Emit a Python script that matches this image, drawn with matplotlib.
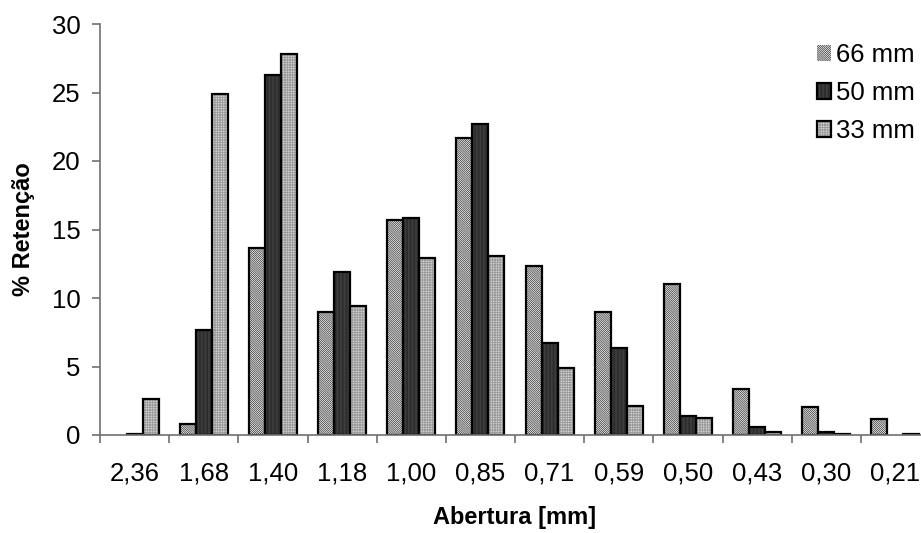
import numpy as np
import matplotlib
matplotlib.use("Agg")
import matplotlib.pyplot as plt
from matplotlib.legend_handler import HandlerTuple

plt.rcParams["font.family"] = ["Liberation Sans", "DejaVu Sans"]
plt.rcParams["hatch.linewidth"] = 0.5

# Data
aberturas = ["2,36", "1,68", "1,40", "1,18", "1,00", "0,85",
             "0,71", "0,59", "0,50", "0,43", "0,30", "0,21"]
series_names = ["66 mm", "50 mm", "33 mm"]
ret_66 = [0.0, 0.8, 13.65, 8.98, 15.66, 21.68, 12.33, 8.98, 11.05, 3.33, 2.01, 1.14]
ret_50 = [0.1, 7.65, 26.3, 11.9, 15.83, 22.7, 6.68, 6.36, 1.41, 0.56, 0.24, 0.0]
ret_33 = [2.6, 24.9, 27.8, 9.42, 12.92, 13.06, 4.9, 2.14, 1.26, 0.24, 0.1, 0.1]


def main():
    fig = plt.figure(figsize=(9.21, 5.33), dpi=100)
    W, H = 921, 533
    ax = fig.add_axes((100 / W, (H - 435) / H, 830 / W, 411 / H))

    # (face, hatch, hatch colour) per series
    styles = [
        ("white", "\\\\\\\\\\\\\\\\\\\\\\\\\\\\\\\\", "#2a2a2a"),
        ("#4a4a4a", "||||||||||||", "#202020"),
        ("#f0f0f0", "++++++++++", "#999999"),
    ]
    values = [ret_66, ret_50, ret_33]
    width = 0.232
    x = np.arange(len(aberturas)) + 0.5

    handles = []
    for i, (vals, (face, hatch, hcol)) in enumerate(zip(values, styles)):
        pos = x + (i - 1) * width
        vals = np.asarray(vals)
        fill = ax.bar(pos, vals, width, color=face, edgecolor=hcol,
                      hatch=hatch, linewidth=0, zorder=2)
        lws = np.where(vals > 0, 1.6, 0)
        outline = ax.bar(pos, vals, width, fill=False, edgecolor="black",
                         linewidth=lws, zorder=3)
        handles.append((fill[0], outline[0]))

    ax.set_xlim(0, 12)
    ax.set_ylim(0, 30)
    ax.set_yticks(np.arange(0, 31, 5))
    ax.set_xticks(np.arange(0, 13))
    ax.set_xticklabels([])
    ax.set_xticks(x, minor=True)
    ax.set_xticklabels(aberturas, minor=True)

    spine_col = "#707070"
    for side in ("top", "right"):
        ax.spines[side].set_visible(False)
    for side in ("left", "bottom"):
        ax.spines[side].set_color(spine_col)
        ax.spines[side].set_linewidth(1.2)
        ax.spines[side].set_zorder(4)
    ax.tick_params(axis="y", direction="out", length=6, width=1.2,
                   color=spine_col, labelsize=18.5, pad=8)
    ax.tick_params(axis="x", which="major", direction="out", length=6,
                   width=1.2, color=spine_col)
    ax.tick_params(axis="x", which="minor", length=0, labelsize=18.5, pad=19)

    ax.set_ylabel("% Retenção", fontsize=17, fontweight="bold", labelpad=12)
    ax.set_xlabel("Abertura [mm]", fontsize=17, fontweight="bold", labelpad=15)

    fig.legend(handles, series_names, loc="upper left",
               bbox_to_anchor=(817 / W, 1 - 43 / H),
               bbox_transform=fig.transFigure,
               handler_map={tuple: HandlerTuple(ndivide=1, pad=0)},
               frameon=False, fontsize=18.5, borderpad=0, borderaxespad=0,
               handlelength=0.55, handleheight=0.55,
               handletextpad=0.2, labelspacing=0.55)

    fig.savefig("out.png", dpi=100)


if __name__ == "__main__":
    main()
